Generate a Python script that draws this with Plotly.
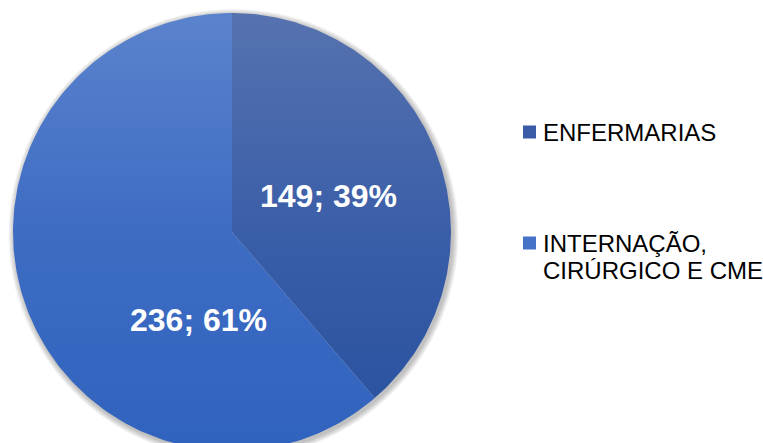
import numpy as np
import plotly.graph_objects as go

# Data
categories = ["ENFERMARIAS", "INTERNAÇÃO, CIRÚRGICO E CME"]
legend_lines = [["ENFERMARIAS"], ["INTERNAÇÃO,", "CIRÚRGICO E CME"]]
values = [149, 236]

# Vertical gradients per slice (bottom -> middle -> top)
slice_gradients = [
    ["#27509E", "#3A5EA8", "#5672AF"],
    ["#3063BE", "#3E6CC3", "#5B83CD"],
]
legend_colors = ["#3A5CA6", "#4672C6"]

W, H = 763, 443
PX = 219.0            # pixels per pie radius
CX, CY = 232.0, 232.0  # pie centre in pixels (from top-left)

total = sum(values)
fig = go.Figure()

# soft outer shadow under the pie
for k in range(6, 0, -1):
    rr = 1 + k / PX
    ox, oy = 1.5 / PX, -2.0 / PX
    fig.add_shape(type="circle", xref="x", yref="y",
                  x0=ox - rr, x1=ox + rr, y0=oy - rr, y1=oy + rr,
                  fillcolor="rgba(0,0,0,0.045)", line=dict(width=0), layer="below")

# wedges, clockwise from 12 o'clock
cum = 0.0
mids = []
for cat, val, grad in zip(categories, values, slice_gradients):
    a0 = 90 - cum / total * 360
    a1 = 90 - (cum + val) / total * 360
    cum += val
    t = np.radians(np.linspace(a0, a1, 200))
    xs = np.concatenate([[0], np.cos(t), [0]])
    ys = np.concatenate([[0], np.sin(t), [0]])
    fig.add_trace(go.Scatter(
        x=xs, y=ys, mode="lines", line=dict(width=0), fill="toself",
        fillgradient=dict(type="vertical", start=-1, stop=1,
                          colorscale=[[0, grad[0]], [0.5, grad[1]], [1, grad[2]]]),
        name=cat, showlegend=False, hoverinfo="skip"))
    mids.append(np.radians((a0 + a1) / 2))

# data labels "value; percent" (second label nudged towards the bottom)
label_r = [0.47, 0.43]
label_shift = [0.0, np.radians(48.5)]
for val, m, r, sh in zip(values, mids, label_r, label_shift):
    ang = m + sh
    fig.add_annotation(
        x=r * np.cos(ang), y=r * np.sin(ang), xref="x", yref="y",
        text=f"<b>{val}; {round(val / total * 100)}%</b>", showarrow=False,
        font=dict(family="Liberation Sans, Arial, sans-serif", size=32, color="white"),
        xanchor="center", yanchor="middle")

# legend drawn at right
legend_tops = [132, 243]
line_gap = 27
for lines, color, ytop in zip(legend_lines, legend_colors, legend_tops):
    fig.add_shape(type="rect", xref="paper", yref="paper",
                  x0=523 / W, x1=536 / W,
                  y0=1 - (ytop + 6.5) / H, y1=1 - (ytop - 6.5) / H,
                  fillcolor=color, line=dict(width=0))
    for i, ln in enumerate(lines):
        fig.add_annotation(
            x=541 / W, y=1 - (ytop + i * line_gap) / H, xref="paper", yref="paper",
            text=ln, showarrow=False, xanchor="left", yanchor="middle",
            font=dict(family="Liberation Sans, Arial, sans-serif", size=24, color="#000000"))

fig.update_layout(
    width=W, height=H, margin=dict(l=0, r=0, t=0, b=0),
    paper_bgcolor="white", plot_bgcolor="white", showlegend=False,
    xaxis=dict(range=[-CX / PX, (W - CX) / PX], visible=False, fixedrange=True),
    yaxis=dict(range=[-(H - CY) / PX, CY / PX], visible=False, fixedrange=True),
)

fig.write_html("out.html")
